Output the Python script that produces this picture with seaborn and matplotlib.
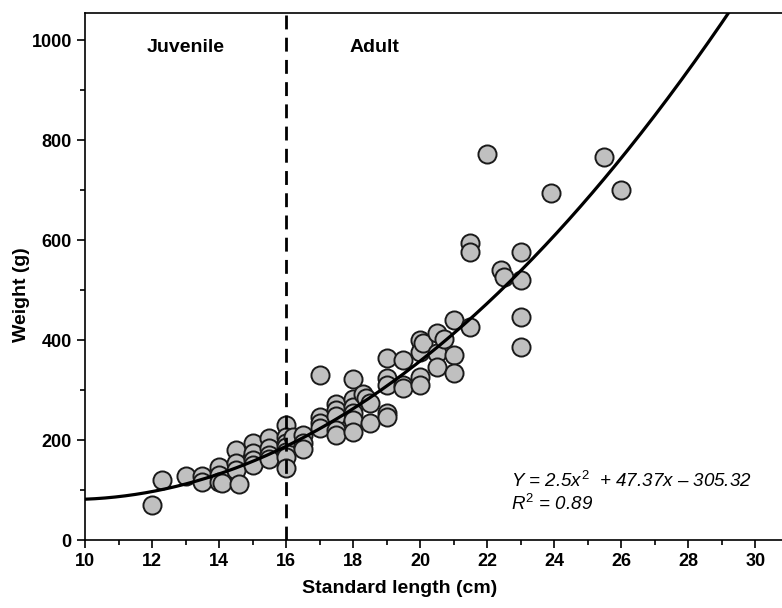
import numpy as np
import pandas as pd
import seaborn as sns
import matplotlib.pyplot as plt
from matplotlib.ticker import MultipleLocator

# standard length (cm) and weight (g)
length = [12.0, 12.3, 13.0, 13.5, 13.5, 14.0, 14.0, 14.0, 14.1, 14.5, 14.5, 14.5, 14.6,
          15.0, 15.0, 15.0, 15.0, 15.5, 15.5, 15.5, 15.5,
          16.0, 16.0, 16.0, 16.0, 16.0, 16.0, 16.0, 16.2,
          16.5, 16.5, 16.5, 17.0, 17.0, 17.0, 17.0, 17.5, 17.5, 17.5, 17.5, 17.5,
          18.0, 18.0, 18.0, 18.0, 18.0, 18.0, 18.3, 18.4, 18.5, 18.5,
          19.0, 19.0, 19.0, 19.0, 19.0, 19.5, 19.5, 19.5,
          20.0, 20.0, 20.0, 20.0, 20.1, 20.5, 20.5, 20.5, 20.7,
          21.0, 21.0, 21.0, 21.5, 21.5, 21.5, 22.0, 22.4, 22.5,
          23.0, 23.0, 23.0, 23.0, 23.9, 25.5, 26.0]
weight = [70, 120, 128, 128, 117, 146, 130, 116, 114, 180, 155, 140, 113,
          195, 175, 160, 150, 205, 185, 170, 162,
          230, 206, 195, 186, 176, 166, 144, 206,
          210, 195, 182, 330, 246, 234, 225, 272, 260, 248, 220, 210,
          322, 282, 266, 254, 240, 216, 292, 285, 274, 234,
          364, 325, 310, 254, 246, 360, 310, 305,
          400, 376, 327, 310, 394, 414, 374, 347, 402,
          440, 370, 334, 594, 577, 426, 773, 540, 527,
          577, 520, 447, 387, 694, 767, 700]

# quadratic fit coefficients (highest power first)
fit_coef = [2.5, -47.37, 305.32]
split_length = 16

df = pd.DataFrame({"length": length, "weight": weight})

sns.set_theme(style="ticks")
plt.rcParams['font.family'] = ['Liberation Sans', 'DejaVu Sans']
plt.rcParams['mathtext.fontset'] = 'custom'
plt.rcParams['mathtext.it'] = 'Liberation Sans:italic'
plt.rcParams['mathtext.rm'] = 'Liberation Sans'
plt.rcParams['text.color'] = 'black'
plt.rcParams['axes.labelcolor'] = 'black'
plt.rcParams['xtick.color'] = 'black'
plt.rcParams['ytick.color'] = 'black'

fig = plt.figure(figsize=(7.82, 6.08), dpi=100)
ax = fig.add_axes([0.1087, 0.1118, 0.8913, 0.8668])

sns.scatterplot(data=df, x="length", y="weight", ax=ax, s=170,
                color="#c0c0c0", edgecolor="#1a1a1a", linewidth=1.4, zorder=2)

xs = np.linspace(10, 30, 400)
ax.plot(xs, np.polyval(fit_coef, xs), color="black", lw=2.3, zorder=3)
ax.axvline(split_length, color="black", lw=2, ls=(0, (5, 3)), zorder=4)

ax.set_xlim(10, 30.8)
ax.set_ylim(0, 1054)
ax.xaxis.set_major_locator(MultipleLocator(2))
ax.xaxis.set_minor_locator(MultipleLocator(1))
ax.yaxis.set_major_locator(MultipleLocator(200))
ax.yaxis.set_minor_locator(MultipleLocator(100))
ax.tick_params(which="major", length=6, width=1.2, direction="out", labelsize=13)
ax.tick_params(which="minor", length=3.5, width=1.2, direction="out")
for lab in ax.get_xticklabels() + ax.get_yticklabels():
    lab.set_fontweight("bold")
for side in ["left", "bottom", "top"]:
    ax.spines[side].set_linewidth(1.2)
    ax.spines[side].set_color("black")
ax.spines["right"].set_visible(False)

ax.set_xlabel("Standard length (cm)", fontsize=14, fontweight="bold")
ax.set_ylabel("Weight (g)", fontsize=14, fontweight="bold")
ax.xaxis.set_label_coords(0.452, -0.075)
ax.yaxis.set_label_coords(-0.079, 0.465)

ax.text(13.0, 986, "Juvenile", fontsize=14, fontweight="bold", ha="center", va="center")
ax.text(18.65, 986, "Adult", fontsize=14, fontweight="bold", ha="center", va="center")
ax.text(29.9, 95, "$Y$ = 2.5$x^2$  + 47.37$x$ – 305.32\n$R^2$ = 0.89", fontsize=13.5,
        style="italic", ha="right", va="center", multialignment="left",
        linespacing=1.15)

fig.savefig("out.png", dpi=100)
